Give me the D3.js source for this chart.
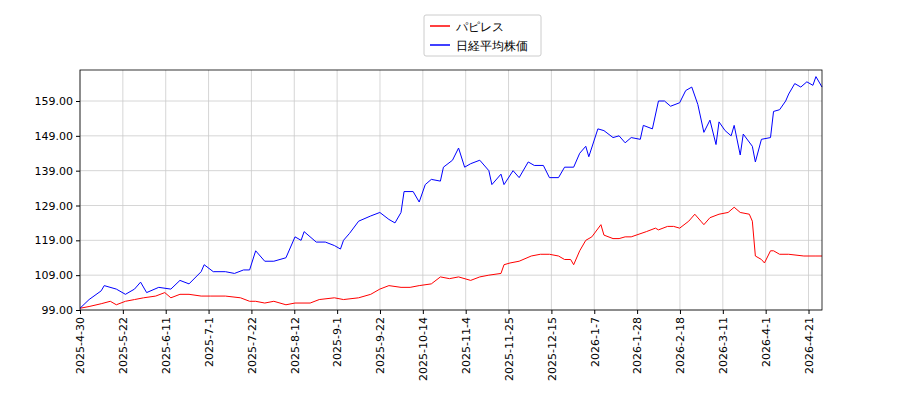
<!DOCTYPE html>
<html><head><meta charset="utf-8">
<script src="https://cdn.jsdelivr.net/npm/d3@7"></script>
<style>body{margin:0;background:#fff}text{font-family:"DejaVu Sans",sans-serif}</style>
</head><body><svg id="chart" width="900" height="400"></svg>
<script>
const TICK_LABELS = ["2025-4-30","2025-5-22","2025-6-11","2025-7-1","2025-7-22","2025-8-12","2025-9-1","2025-9-22","2025-10-14","2025-11-4","2025-11-25","2025-12-15","2026-1-7","2026-1-28","2026-2-18","2026-3-11","2026-4-1","2026-4-21"];
const Y_TICKS = [99, 109, 119, 129, 139, 149, 159];

const nikkeiDays = [0,3,7,8,12,15,18,20,22,26,30,33,36,40,41,44,48,51,54,56,58,61,64,68,71,73,74,78,81,84,86,87,89,92,96,99,102,104,106,107,110,112,114,116,119,120,123,125,127,129,132,135,136,139,140,143,145,148,150,153,155,158,160,163,165,167,168,171,173,176,178,180,182,185,186,189,191,193,195,198,200,202,204,206,208,210,211,213,215,216,218,219,222,223,225,228,229,231,233,234,236,238,240,242,243,245];
const nikkeiValues = [99.5,102,104.5,106,105,103.5,105,107,104,105.5,105,107.5,106.5,110,112,110,110,109.5,110.5,110.5,116,113,113,114,120,119,121.5,118.5,118.5,117.5,116.5,119,121,124.5,126,127,125,124,127,133,133,130,135,136.5,136,140,142,145.5,140,141,142,139,135,138,135,139,137,141.5,140.5,140.5,137,137,140,140,144,146,143,151,150.5,148.5,149,147,148.5,148,152,151,159,159,157.5,158.5,162,163,158,150,153.5,146.5,153,150.5,149,152,143.5,149.5,146,141.5,148,148.5,156,156.5,159,161,164,163,164.5,163.5,166,163];

const papyrusDays = [0,3,7,10,12,15,18,21,25,28,30,33,36,40,43,48,53,56,58,61,64,68,71,76,79,84,87,92,96,99,102,106,109,112,116,119,122,125,129,132,135,139,140,142,145,149,152,155,158,160,162,163,165,167,169,172,173,176,178,180,182,187,190,191,194,196,198,201,203,205,206,208,211,214,216,218,221,222,223,225,226,228,229,231,234,239,243,245];
const papyrusValues = [99.5,100,100.8,101.5,100.5,101.5,102,102.5,103,104,102.5,103.5,103.5,103,103,103,102.5,101.5,101.5,101,101.5,100.5,101,101,102,102.5,102,102.5,103.5,105,106,105.5,105.5,106,106.5,108.5,108,108.5,107.5,108.5,109,109.5,112,112.5,113,114.5,115,115,114.5,113.5,113.5,112,116,119,120,123.5,120.5,119.5,119.5,120,120,121.5,122.5,122,123,123,122.5,124.5,126.5,124.5,123.5,125.5,126.5,127,128.5,127,126.5,124.5,114.5,113.5,112.5,116,116,115,115,114.5,114.5,114.5];

const svg = d3.select("#chart");
const m = {left: 80, right: 822, top: 70, bottom: 310};
const x = d3.scaleLinear().domain([0, 245]).range([m.left, m.right]);
const y = d3.scaleLinear().domain([99, 167.9]).range([m.bottom, m.top]);
const tickDays = TICK_LABELS.map((d, i) => i * 14.15);

// grid
svg.append("g").selectAll("line").data(tickDays).join("line")
    .attr("x1", d => x(d)).attr("x2", d => x(d)).attr("y1", m.top).attr("y2", m.bottom)
    .attr("stroke", "#ccc").attr("stroke-width", 0.8);
svg.append("g").selectAll("line").data(Y_TICKS).join("line")
    .attr("x1", m.left).attr("x2", m.right).attr("y1", d => y(d)).attr("y2", d => y(d))
    .attr("stroke", "#ccc").attr("stroke-width", 0.8);

const line = d3.line().x(d => x(d[0])).y(d => y(d[1]));
svg.append("path").datum(d3.zip(papyrusDays, papyrusValues))
    .attr("d", line).attr("fill", "none").attr("stroke", "red").attr("stroke-width", 1);
svg.append("path").datum(d3.zip(nikkeiDays, nikkeiValues))
    .attr("d", line).attr("fill", "none").attr("stroke", "blue").attr("stroke-width", 1);

svg.append("rect").attr("x", m.left).attr("y", m.top)
    .attr("width", m.right - m.left).attr("height", m.bottom - m.top)
    .attr("fill", "none").attr("stroke", "#000").attr("stroke-width", 0.8);

const yAxis = svg.append("g").attr("transform", "translate(" + m.left + ",0)")
    .call(d3.axisLeft(y).tickValues(Y_TICKS).tickFormat(d3.format(".2f")).tickSize(4));
yAxis.select(".domain").remove();
yAxis.selectAll("text").attr("font-size", 11).attr("fill", "#000");

const xAxis = svg.append("g").attr("transform", "translate(0," + m.bottom + ")")
    .call(d3.axisBottom(x).tickValues(tickDays).tickFormat((d, i) => TICK_LABELS[i]).tickSize(4));
xAxis.select(".domain").remove();
xAxis.selectAll("text").attr("font-size", 11).attr("fill", "#000")
    .attr("transform", "rotate(-90)").attr("text-anchor", "end")
    .attr("x", -7).attr("y", 0).attr("dy", "0.35em");

// legend
const lg = svg.append("g").attr("transform", "translate(424,15)");
lg.append("rect").attr("width", 117).attr("height", 41).attr("fill", "#fff")
    .attr("stroke", "#ccc").attr("rx", 2);
[["パピレス", "red"], ["日経平均株価", "blue"]].forEach((s, i) => {
    lg.append("line").attr("x1", 6).attr("x2", 26).attr("y1", 11 + i * 19).attr("y2", 11 + i * 19)
        .attr("stroke", s[1]).attr("stroke-width", 1.5);
    lg.append("text").attr("x", 32).attr("y", 15.5 + i * 19).attr("font-size", 12).text(s[0]);
});
</script></body></html>
